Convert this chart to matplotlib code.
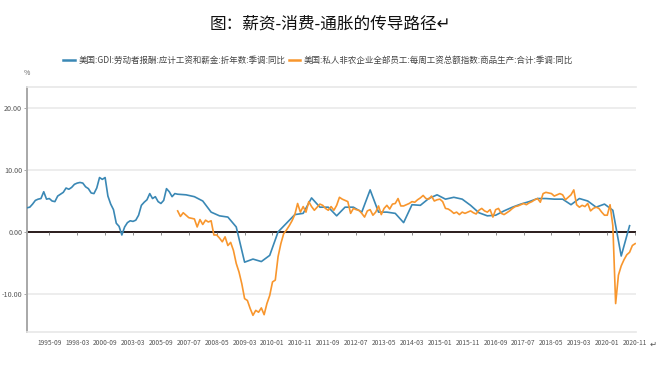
import matplotlib
matplotlib.use("Agg")
import matplotlib.pyplot as plt
from matplotlib.lines import Line2D
import numpy as np
import pandas as pd

plt.rcParams['font.family'] = ['Noto Sans CJK SC', 'DejaVu Sans']
plt.rcParams['axes.unicode_minus'] = False

# categories: quarterly until 2006-12, monthly from 2007-03 (Wind-style category axis)
q_dates = pd.date_range("1993-09-01", "2006-12-01", freq="3MS")
m_dates = pd.date_range("2007-03-01", "2020-11-01", freq="MS")
categories = [d.strftime("%Y-%m") for d in q_dates] + [d.strftime("%Y-%m") for d in m_dates]

tick_labels = ["1995-09", "1998-03", "2000-09", "2003-03", "2005-09", "2007-07",
               "2008-05", "2009-03", "2010-01", "2010-11", "2011-09", "2012-07",
               "2013-05", "2014-03", "2015-01", "2015-11", "2016-09", "2017-07",
               "2018-05", "2019-03", "2020-01", "2020-11"]

# 美国:GDI:劳动者报酬:应计工资和薪金 (quarterly, 1993-09 .. 2020-09)
gdi_dates = pd.date_range("1993-09-01", "2020-09-01", freq="3MS").strftime("%Y-%m")
gdi_wages = [3.9, 4.0, 4.5, 5.1, 5.3, 5.4, 6.5, 5.3, 5.4, 5.0,
             4.9, 5.8, 6.1, 6.4, 7.1, 6.9, 7.2, 7.7, 7.9, 8.0,
             7.9, 7.3, 7.0, 6.3, 6.2, 7.1, 8.8, 8.5, 8.8, 5.8,
             4.5, 3.6, 1.4, 0.9, -0.5, 0.8, 1.5, 1.8, 1.7, 1.9,
             2.7, 4.3, 4.8, 5.2, 6.2, 5.4, 5.7, 4.9, 4.6, 5.1,
             7.0, 6.5, 5.7, 6.2,
             6.1, 6.0, 5.7, 5.0, 3.2, 2.6, 2.4, 0.8, -4.9, -4.4,
             -4.8, -3.8, 0.0, 1.4, 2.8, 3.0, 5.5, 4.0, 4.0, 2.6,
             4.0, 4.0, 3.2, 6.8, 3.2, 3.2, 3.0, 1.5, 4.4, 4.3,
             5.4, 6.0, 5.3, 5.6, 5.3, 4.3, 3.1, 2.6, 2.7, 3.4,
             4.0, 4.5, 4.9, 5.4, 5.4, 5.3, 5.3, 4.4, 5.4, 5.0,
             4.0, 4.5, 3.5, -3.9, 1.0]

# 美国:私人非农企业全部员工:每周工资总额指数:商品生产 (monthly, 2007-03 .. 2020-11)
payroll_dates = m_dates.strftime("%Y-%m")
payroll = [3.4, 2.5, 3.1, 2.7, 2.3, 2.2, 2.1, 0.8, 2.0, 1.2,
           1.9, 1.6, 1.8, -0.5, -0.5, -1.0, -1.6, -0.8, -2.2, -1.7,
           -3.0, -5.1, -6.5, -8.4, -10.8, -11.1, -12.4, -13.5, -12.7, -13.0,
           -12.3, -13.4, -11.6, -10.3, -8.1, -7.8, -4.0, -1.9, -0.3, 0.3,
           1.0, 1.8, 2.8, 4.6, 3.2, 4.1, 3.2, 4.9, 4.1, 3.5,
           4.0, 4.5, 4.3, 3.8, 3.5, 4.1, 3.5, 4.3, 5.6, 5.3,
           5.1, 4.9, 3.0, 3.8, 3.6, 3.5, 3.0, 2.4, 3.4, 3.6,
           2.7, 3.2, 4.2, 2.8, 3.8, 4.3, 3.7, 4.5, 4.6, 5.4,
           4.2, 4.2, 4.4, 4.6, 4.9, 4.8, 5.2, 5.5, 5.9, 5.4,
           5.3, 5.8, 5.0, 5.2, 5.3, 4.9, 3.8, 3.7, 3.4, 3.0,
           3.2, 2.8, 3.2, 3.0, 3.2, 3.4, 3.1, 2.9, 3.5, 3.8,
           3.4, 3.2, 3.6, 2.4, 3.6, 3.8, 3.0, 2.8, 3.1, 3.4,
           3.8, 4.1, 4.2, 4.4, 4.6, 4.4, 4.7, 4.9, 5.2, 5.4,
           4.8, 6.2, 6.4, 6.3, 6.2, 5.8, 6.0, 6.2, 6.0, 5.2,
           5.6, 6.0, 6.8, 4.4, 4.0, 4.3, 4.1, 4.6, 3.4, 3.8,
           4.0, 3.8, 3.2, 2.7, 2.7, 4.4, 1.0, -11.6, -7.0, -5.5,
           -4.5, -3.7, -3.3, -2.2, -1.9]

label1 = "美国:GDI:劳动者报酬:应计工资和薪金:折年数:季调:同比"
label2 = "美国:私人非农企业全部员工:每周工资总额指数:商品生产:合计:季调:同比"

pos = {c: i for i, c in enumerate(categories)}
x1 = [pos[d] for d in gdi_dates]
x2 = [pos[d] for d in payroll_dates]
blue = "#3a88b5"
orange = "#f8962d"

fig = plt.figure(figsize=(6.66, 3.81), dpi=100)
ax = fig.add_axes([27/666, 1-332/381, (636-27)/666, (332-87)/381])

ax.plot(x1, gdi_wages, color=blue, lw=1.2, zorder=3)
ax.plot(x2, payroll, color=orange, lw=1.2, zorder=3)

ax.set_xlim(0, len(categories) - 0.7)
ax.set_ylim(-16.2, 23.45)

ax.set_yticks([-10, 0, 10, 20])
ax.set_yticklabels(["%.2f" % v for v in [-10, 0, 10, 20]])
ax.yaxis.grid(True, color="#ececec", lw=1.3)
ax.set_axisbelow(True)
ax.axhline(0, color="#2a1c1c", lw=1.4, zorder=2)

tick_pos = [pos[t] for t in tick_labels]
ax.set_xticks(tick_pos)
ax.set_xticklabels(tick_labels)
ax.vlines(tick_pos, -0.55, 0, color="#777777", lw=0.6, zorder=2)

ax.tick_params(axis="x", length=0, pad=5, labelsize=4.8, labelcolor="#555555")
ax.tick_params(axis="y", length=2, width=0.6, color="#999999", pad=1.5,
               labelsize=5.2, labelcolor="#555555")

for s in ["top", "bottom"]:
    ax.spines[s].set_color("#e8e8e8")
    ax.spines[s].set_linewidth(1.2)
ax.spines["right"].set_visible(False)
ax.spines["left"].set_color("#a8a8a8")
ax.spines["left"].set_linewidth(1.4)

fig.text(330/666, 1-24/381, "图：薪资-消费-通胀的传导路径↵", ha="center", va="center",
         fontsize=12, color="#111111")
fig.text(27/666, 1-73/381, "%", ha="center", va="center", fontsize=5, color="#666666")
fig.text(653/666, 1-344/381, "↵", ha="center", va="center", fontsize=6, color="#555555")

handles = [Line2D([], [], color=blue, lw=1.8), Line2D([], [], color=orange, lw=1.8)]
fig.legend(handles, [label1, label2], loc="center", bbox_to_anchor=(318/666, 1-60/381),
           ncol=2, frameon=False, fontsize=6.1, handlelength=1.4, handletextpad=0.35,
           columnspacing=0.4, labelcolor="#444444")

fig.savefig("out.png", dpi=100)
